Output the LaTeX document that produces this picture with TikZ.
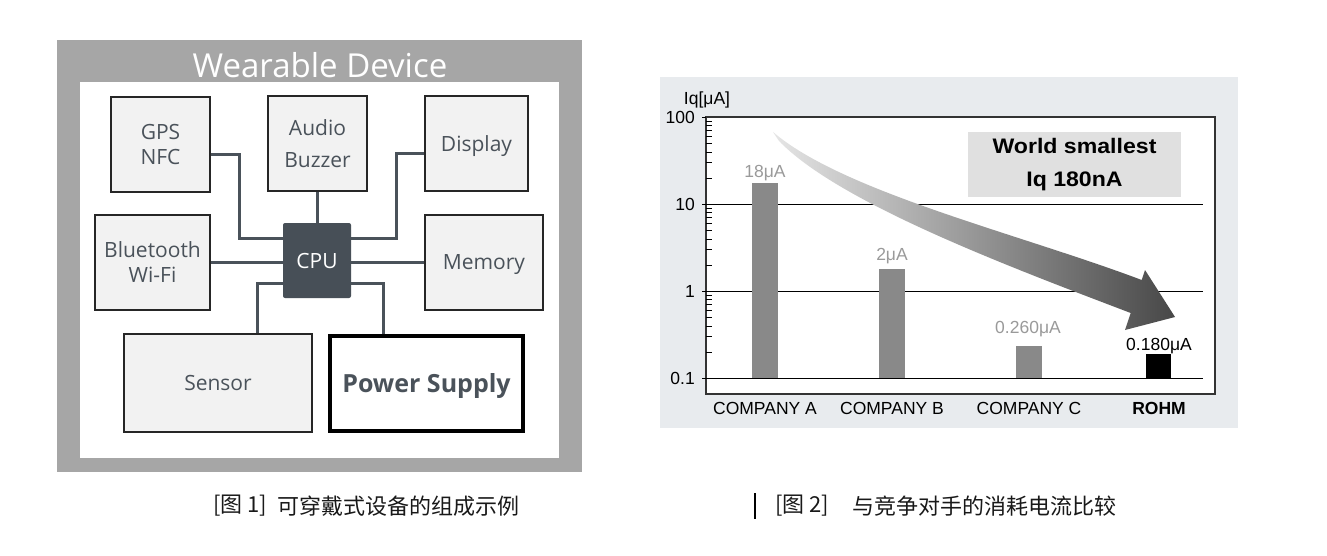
\documentclass[tikz,border=0pt]{standalone}
\usepackage{fontspec}
\setmainfont{Open Sans}
\newfontfamily\chartfont{Liberation Sans}
\newfontfamily\calloutfont[FakeStretch=1.1]{Liberation Sans}
\newfontfamily\cjkfont{Noto Sans CJK SC}
\definecolor{framegray}{HTML}{A6A6A6}
\definecolor{boxfill}{HTML}{F2F2F2}
\definecolor{slate}{HTML}{4A525A}
\definecolor{cpufill}{HTML}{474F57}
\definecolor{panelbg}{HTML}{E8EBEE}
\definecolor{barfill}{HTML}{898989}
\definecolor{labelgray}{HTML}{9A9A9A}
\definecolor{calloutbg}{HTML}{E0E0E0}
\begin{document}
\begin{tikzpicture}[
    x=1pt, y=-1pt,
    block/.style={rectangle, draw=black!85, line width=1.5pt, fill=boxfill, text=slate, align=center, inner sep=0pt, font=\fontsize{21}{25}\selectfont},
    oneline/.style={text depth=0pt},
    wire/.style={draw=slate, line width=3pt},
    chartlbl/.style={inner sep=0pt, font=\chartfont\fontsize{17.5}{20}\selectfont},
    gridline/.style={line width=1.2pt, black},
    minortick/.style={line width=0.8pt, black},
    caption/.style={inner sep=0pt, anchor=west, text=black!90, font=\cjkfont\fontsize{22}{26}\selectfont}
  ]
    \useasboundingbox (0,0) rectangle (1327,556);
    % left: block diagram
    \fill[framegray] (57,40) rectangle (582,472);
    \fill[white] (80,82) rectangle (559,458);
    \node[text=white, font=\fontsize{33}{36}\selectfont] (title) at (320,65) {Wearable Device};
    \node[block, minimum width=99, minimum height=95] (gps) at (160.5,144.5) {GPS\\NFC};
    \node[block, minimum width=99, minimum height=95, font=\fontsize{21}{32}\selectfont] (audio) at (317.5,143.5) {Audio\\Buzzer};
    \node[block, oneline, minimum width=103, minimum height=95] (disp) at (476.5,143.5) {Display};
    \node[block, minimum width=115, minimum height=95] (bt) at (152.5,262.5) {Bluetooth\\Wi-Fi};
    \node[block, oneline, minimum width=118, minimum height=95] (mem) at (484,262.5) {Memory};
    \node[rectangle, oneline, rounded corners=2pt, fill=cpufill, text=white, minimum width=68, minimum height=75, font=\fontsize{21}{25}\selectfont] (cpu) at (317,260.5) {CPU};
    \node[block, oneline, minimum width=188, minimum height=98] (sensor) at (218,383) {Sensor};
    \node[block, oneline, fill=white, draw=black, line width=4pt, minimum width=193, minimum height=95, font=\bfseries\fontsize{25}{30}\selectfont] (power) at (426.5,383.5) {Power Supply};
    \draw[wire] ([yshift=-10.5pt]gps.east) -- ++(29,0) |- ([yshift=22.5pt]cpu.west);
    \draw[wire] ([yshift=-10.5pt]disp.west) -- ++(-28,0) |- ([yshift=22.5pt]cpu.east);
    \draw[wire] (audio.south) -- (audio.south |- cpu.north);
    \draw[wire] (bt.east) -- (bt.east -| cpu.west);
    \draw[wire] (mem.west) -- (mem.west -| cpu.east);
    \draw[wire] ([yshift=-22.5pt]cpu.west) -| ([xshift=39pt]sensor.north);
    \draw[wire] ([yshift=-22.5pt]cpu.east) -| ([xshift=-43.5pt]power.north);
    % right: Iq chart (log scale, 87pt per decade)
    \fill[panelbg] (660,77) rectangle (1238,428);
    \draw[fill=white, draw=black!80, line width=1.2pt] (706,117) rectangle (1215,394);
    \foreach \v in {204.3,291.3,378.3}
      \draw[gridline] (702,\v) -- (1203,\v);
    \draw[gridline] (702,117.3) -- (706,117.3);
    \foreach \d in {0,1,2}
      \foreach \k in {2,...,9}
        \draw[minortick] (706,{378.3-87*(\d+log10(\k))}) -- ++(6,0);
    \node[chartlbl, anchor=east] (t100) at (695,117.3) {100};
    \node[chartlbl, anchor=east] (t10) at (695,204.3) {10};
    \node[chartlbl, anchor=east] (t1) at (695,291.3) {1};
    \node[chartlbl, anchor=east] (t01) at (695,378.3) {0.1};
    \node[chartlbl] (unit) at (707,100) {Iq[μA]};
    \foreach \cx/\ytop in {765/183,892/269,1029/346}
      \fill[barfill] (\cx-13,\ytop) rectangle (\cx+13,378.3);
    \fill[black] (1146,354) rectangle (1171,378.3);
    \node[chartlbl, text=labelgray] (vala) at (765,173) {18μA};
    \node[chartlbl, text=labelgray] (valb) at (892,256) {2μA};
    \node[chartlbl, text=labelgray] (valc) at (1028,329) {0.260μA};
    \node[chartlbl] (vald) at (1159,346) {0.180μA};
    \node[chartlbl] (cata) at (765,408) {COMPANY A};
    \node[chartlbl] (catb) at (892,408) {COMPANY B};
    \node[chartlbl] (catc) at (1029,408) {COMPANY C};
    \node[chartlbl, font=\chartfont\bfseries\fontsize{17.5}{20}\selectfont] (catd) at (1159,408) {ROHM};
    \shade[left color=black!10, right color=black!72] (773,132) .. controls (843,192) and (1020,234) .. (1141.7,280)
      -- (1145,270) -- (1175,317) -- (1125,330) -- (1130.7,313)
      .. controls (1010,267) and (839,203) .. (779,141) -- cycle;
    \node[fill=calloutbg, minimum width=213, minimum height=65, align=center, inner sep=0pt, font=\calloutfont\bfseries\fontsize{21}{33}\selectfont] (callout) at (1074.5,164.5) {World smallest\\Iq 180nA};
    % captions
    \node[caption] (cap1) at (213,506) {[图 1]};
    \node[caption] (cap1txt) at (277,506) {可穿戴式设备的组成示例};
    \draw[line width=2pt, black] (755,493) -- (755,519);
    \node[caption] (cap2) at (775,506) {[图 2]};
    \node[caption] (cap2txt) at (852,506) {与竞争对手的消耗电流比较};
\end{tikzpicture}
\end{document}
